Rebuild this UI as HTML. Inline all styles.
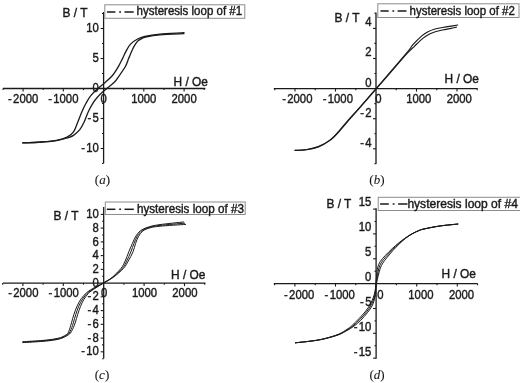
<!DOCTYPE html>
<html><head><meta charset="utf-8"><title>Hysteresis loops</title>
<style>
html,body{margin:0;padding:0;background:#fff;}
svg{display:block;}
svg text{font-family:"Liberation Sans",sans-serif;fill:#1a1a1a;stroke:#1a1a1a;stroke-width:0.4px;}
svg text.cap{font-family:"Liberation Serif",serif;stroke-width:0.1px;}
</style></head><body>
<svg width="520" height="383" viewBox="0 0 520 383">
<rect width="520" height="383" fill="#ffffff"/>
<line x1="3.0" y1="88.5" x2="205.4" y2="88.5" stroke="#1a1a1a" stroke-width="1.30"/>
<line x1="103.6" y1="12.0" x2="103.6" y2="163.3" stroke="#1a1a1a" stroke-width="1.30"/>
<line x1="23.1" y1="88.5" x2="23.1" y2="91.5" stroke="#1a1a1a" stroke-width="1.10"/>
<line x1="63.3" y1="88.5" x2="63.3" y2="91.5" stroke="#1a1a1a" stroke-width="1.10"/>
<line x1="143.8" y1="88.5" x2="143.8" y2="91.5" stroke="#1a1a1a" stroke-width="1.10"/>
<line x1="184.1" y1="88.5" x2="184.1" y2="91.5" stroke="#1a1a1a" stroke-width="1.10"/>
<line x1="3.0" y1="88.5" x2="3.0" y2="90.1" stroke="#1a1a1a" stroke-width="1.10"/>
<line x1="43.2" y1="88.5" x2="43.2" y2="90.1" stroke="#1a1a1a" stroke-width="1.10"/>
<line x1="83.5" y1="88.5" x2="83.5" y2="90.1" stroke="#1a1a1a" stroke-width="1.10"/>
<line x1="123.7" y1="88.5" x2="123.7" y2="90.1" stroke="#1a1a1a" stroke-width="1.10"/>
<line x1="164.0" y1="88.5" x2="164.0" y2="90.1" stroke="#1a1a1a" stroke-width="1.10"/>
<line x1="204.2" y1="88.5" x2="204.2" y2="90.1" stroke="#1a1a1a" stroke-width="1.10"/>
<text transform="translate(23.1,103.2) scale(0.950,1)" font-size="11.9" text-anchor="middle" >-<tspan dx="1.4">2000</tspan></text>
<text transform="translate(63.3,103.2) scale(0.950,1)" font-size="11.9" text-anchor="middle" >-<tspan dx="1.4">1000</tspan></text>
<text transform="translate(143.8,103.2) scale(0.950,1)" font-size="11.9" text-anchor="middle" >1000</text>
<text transform="translate(184.1,103.2) scale(0.950,1)" font-size="11.9" text-anchor="middle" >2000</text>
<text transform="translate(103.6,103.2) scale(0.950,1)" font-size="11.9" text-anchor="middle" >0</text>
<line x1="100.6" y1="28.5" x2="103.6" y2="28.5" stroke="#1a1a1a" stroke-width="1.10"/>
<text transform="translate(98.8,32.4) scale(0.950,1)" font-size="11.9" text-anchor="end" >10</text>
<line x1="100.6" y1="58.5" x2="103.6" y2="58.5" stroke="#1a1a1a" stroke-width="1.10"/>
<text transform="translate(98.8,62.4) scale(0.950,1)" font-size="11.9" text-anchor="end" >5</text>
<text transform="translate(98.8,92.4) scale(0.950,1)" font-size="11.9" text-anchor="end" >0</text>
<line x1="100.6" y1="118.5" x2="103.6" y2="118.5" stroke="#1a1a1a" stroke-width="1.10"/>
<text transform="translate(98.8,122.4) scale(0.950,1)" font-size="11.9" text-anchor="end" >-<tspan dx="1.4">5</tspan></text>
<line x1="100.6" y1="148.5" x2="103.6" y2="148.5" stroke="#1a1a1a" stroke-width="1.10"/>
<text transform="translate(98.8,152.4) scale(0.950,1)" font-size="11.9" text-anchor="end" >-<tspan dx="1.4">10</tspan></text>
<line x1="102.0" y1="13.5" x2="103.6" y2="13.5" stroke="#1a1a1a" stroke-width="1.10"/>
<line x1="102.0" y1="43.5" x2="103.6" y2="43.5" stroke="#1a1a1a" stroke-width="1.10"/>
<line x1="102.0" y1="73.5" x2="103.6" y2="73.5" stroke="#1a1a1a" stroke-width="1.10"/>
<line x1="102.0" y1="103.5" x2="103.6" y2="103.5" stroke="#1a1a1a" stroke-width="1.10"/>
<line x1="102.0" y1="133.5" x2="103.6" y2="133.5" stroke="#1a1a1a" stroke-width="1.10"/>
<line x1="102.0" y1="163.5" x2="103.6" y2="163.5" stroke="#1a1a1a" stroke-width="1.10"/>
<text x="62.5" y="16.8" font-size="11.9" text-anchor="start" >B / T</text>
<text x="173.6" y="86.2" font-size="11.9" text-anchor="start" >H / Oe</text>
<rect x="104.8" y="4.8" width="140.0" height="13.5" fill="#fff" stroke="#8c8c8c" stroke-width="1"/>
<line x1="106.9" y1="12.0" x2="115.4" y2="12.0" stroke="#1a1a1a" stroke-width="1.50"/>
<line x1="119.2" y1="12.0" x2="121.0" y2="12.0" stroke="#1a1a1a" stroke-width="1.50"/>
<line x1="124.5" y1="12.0" x2="133.7" y2="12.0" stroke="#1a1a1a" stroke-width="1.50"/>
<text x="136.6" y="15.4" font-size="11.9" text-anchor="start" textLength="105.5" lengthAdjust="spacingAndGlyphs">hysteresis loop of #1</text>
<g>
<path d="M22.7,142.8C25.9,142.7 36.1,142.4 41.7,142.0C47.3,141.6 52.3,141.1 56.5,140.3C60.7,139.5 64.3,138.5 67.1,137.1C69.9,135.7 71.7,134.3 73.5,131.8C75.3,129.3 76.3,125.7 77.7,122.3C79.1,118.9 80.5,114.9 81.9,111.7C83.3,108.5 84.5,105.9 86.0,103.3C87.5,100.7 88.7,98.3 90.6,95.9C92.5,93.5 95.0,91.0 97.2,89.0C99.4,87.0 101.1,86.0 103.6,83.8C106.1,81.6 109.5,78.9 112.0,76.0C114.5,73.1 116.8,69.2 118.5,66.3C120.2,63.4 121.2,61.2 122.5,58.6C123.8,56.0 124.9,53.3 126.2,50.9C127.5,48.5 128.7,46.0 130.5,44.1C132.3,42.2 134.8,40.6 137.2,39.3C139.6,38.0 141.1,37.3 144.9,36.4C148.7,35.5 153.5,34.7 160.0,34.1C166.5,33.5 180.0,32.9 184.0,32.6" fill="none" stroke="#1a1a1a" stroke-width="1.30" stroke-linejoin="round" stroke-linecap="round"/>
<path d="M22.7,142.8C25.9,142.7 36.1,142.4 41.7,142.0C47.3,141.6 52.3,141.3 56.5,140.6C60.7,139.9 64.3,138.9 67.1,138.0C69.9,137.1 71.4,136.8 73.5,135.4C75.6,134.0 78.0,131.9 79.8,129.7C81.5,127.5 82.6,125.3 84.0,122.3C85.4,119.3 86.8,114.9 88.3,111.7C89.8,108.5 91.3,105.7 92.8,103.3C94.3,100.9 95.8,99.0 97.4,97.2C99.0,95.4 100.6,93.8 102.3,92.3C104.0,90.8 105.3,89.8 107.4,88.0C109.5,86.2 112.7,84.0 114.8,81.8C116.9,79.6 118.0,77.6 119.8,75.0C121.6,72.4 124.0,69.0 125.5,66.3C127.0,63.6 127.5,61.2 128.6,58.6C129.7,56.0 130.8,53.1 131.8,50.9C132.8,48.6 133.7,46.8 134.8,45.1C135.9,43.4 137.2,41.7 138.4,40.6C139.6,39.5 140.8,38.9 142.0,38.3C143.2,37.7 142.5,37.6 145.5,37.0C148.5,36.4 153.6,35.4 160.0,34.8C166.4,34.2 180.0,33.8 184.0,33.6" fill="none" stroke="#1a1a1a" stroke-width="1.30" stroke-linejoin="round" stroke-linecap="round"/>
</g>
<text x="102.4" y="183.9" font-size="13" text-anchor="middle" class="cap">(<tspan font-style="italic">a</tspan>)</text>
<line x1="273.8" y1="88.6" x2="477.5" y2="88.6" stroke="#1a1a1a" stroke-width="1.30"/>
<line x1="376.0" y1="12.5" x2="376.0" y2="164.1" stroke="#1a1a1a" stroke-width="1.30"/>
<line x1="295.0" y1="88.6" x2="295.0" y2="91.6" stroke="#1a1a1a" stroke-width="1.10"/>
<line x1="335.5" y1="88.6" x2="335.5" y2="91.6" stroke="#1a1a1a" stroke-width="1.10"/>
<line x1="416.5" y1="88.6" x2="416.5" y2="91.6" stroke="#1a1a1a" stroke-width="1.10"/>
<line x1="457.0" y1="88.6" x2="457.0" y2="91.6" stroke="#1a1a1a" stroke-width="1.10"/>
<line x1="274.8" y1="88.6" x2="274.8" y2="90.2" stroke="#1a1a1a" stroke-width="1.10"/>
<line x1="315.2" y1="88.6" x2="315.2" y2="90.2" stroke="#1a1a1a" stroke-width="1.10"/>
<line x1="355.8" y1="88.6" x2="355.8" y2="90.2" stroke="#1a1a1a" stroke-width="1.10"/>
<line x1="396.2" y1="88.6" x2="396.2" y2="90.2" stroke="#1a1a1a" stroke-width="1.10"/>
<line x1="436.8" y1="88.6" x2="436.8" y2="90.2" stroke="#1a1a1a" stroke-width="1.10"/>
<line x1="477.2" y1="88.6" x2="477.2" y2="90.2" stroke="#1a1a1a" stroke-width="1.10"/>
<text transform="translate(297.3,103.4) scale(0.950,1)" font-size="11.9" text-anchor="middle" >-<tspan dx="1.4">2000</tspan></text>
<text transform="translate(337.8,103.4) scale(0.950,1)" font-size="11.9" text-anchor="middle" >-<tspan dx="1.4">1000</tspan></text>
<text transform="translate(418.8,103.4) scale(0.950,1)" font-size="11.9" text-anchor="middle" >1000</text>
<text transform="translate(459.3,103.4) scale(0.950,1)" font-size="11.9" text-anchor="middle" >2000</text>
<text transform="translate(378.3,103.4) scale(0.950,1)" font-size="11.9" text-anchor="middle" >0</text>
<line x1="373.0" y1="28.4" x2="376.0" y2="28.4" stroke="#1a1a1a" stroke-width="1.10"/>
<text transform="translate(371.6,26.3) scale(0.950,1)" font-size="11.9" text-anchor="end" >4</text>
<line x1="373.0" y1="58.5" x2="376.0" y2="58.5" stroke="#1a1a1a" stroke-width="1.10"/>
<text transform="translate(371.6,56.4) scale(0.950,1)" font-size="11.9" text-anchor="end" >2</text>
<text transform="translate(371.6,86.5) scale(0.950,1)" font-size="11.9" text-anchor="end" >0</text>
<line x1="373.0" y1="118.7" x2="376.0" y2="118.7" stroke="#1a1a1a" stroke-width="1.10"/>
<text transform="translate(371.6,116.6) scale(0.950,1)" font-size="11.9" text-anchor="end" >-<tspan dx="1.4">2</tspan></text>
<line x1="373.0" y1="148.8" x2="376.0" y2="148.8" stroke="#1a1a1a" stroke-width="1.10"/>
<text transform="translate(371.6,146.7) scale(0.950,1)" font-size="11.9" text-anchor="end" >-<tspan dx="1.4">4</tspan></text>
<line x1="374.4" y1="13.3" x2="376.0" y2="13.3" stroke="#1a1a1a" stroke-width="1.10"/>
<line x1="374.4" y1="43.4" x2="376.0" y2="43.4" stroke="#1a1a1a" stroke-width="1.10"/>
<line x1="374.4" y1="73.5" x2="376.0" y2="73.5" stroke="#1a1a1a" stroke-width="1.10"/>
<line x1="374.4" y1="103.6" x2="376.0" y2="103.6" stroke="#1a1a1a" stroke-width="1.10"/>
<line x1="374.4" y1="133.8" x2="376.0" y2="133.8" stroke="#1a1a1a" stroke-width="1.10"/>
<line x1="374.4" y1="163.8" x2="376.0" y2="163.8" stroke="#1a1a1a" stroke-width="1.10"/>
<text x="334.5" y="22.0" font-size="11.9" text-anchor="start" >B / T</text>
<text x="444.5" y="82.5" font-size="11.9" text-anchor="start" >H / Oe</text>
<rect x="377.8" y="3.8" width="141.2" height="13.7" fill="#fff" stroke="#8c8c8c" stroke-width="1"/>
<line x1="380.5" y1="11.0" x2="388.7" y2="11.0" stroke="#1a1a1a" stroke-width="1.50"/>
<line x1="392.4" y1="11.0" x2="394.2" y2="11.0" stroke="#1a1a1a" stroke-width="1.50"/>
<line x1="397.6" y1="11.0" x2="406.5" y2="11.0" stroke="#1a1a1a" stroke-width="1.50"/>
<text x="409.6" y="14.6" font-size="11.9" text-anchor="start" textLength="105.2" lengthAdjust="spacingAndGlyphs">hysteresis loop of #2</text>
<g>
<path d="M295.1,150.4C297.0,150.2 302.8,150.1 306.7,149.5C310.6,148.9 314.5,148.2 318.4,146.6C322.3,145.0 326.7,142.5 330.1,139.9C333.5,137.3 336.0,134.3 338.9,131.1C341.8,127.9 344.2,124.8 347.6,120.9C351.0,117.0 354.6,113.2 359.3,107.8C364.0,102.4 370.9,94.5 376.0,88.6C381.1,82.7 384.8,78.4 390.0,72.4C395.2,66.4 403.2,57.1 407.1,52.4C411.0,47.7 410.9,47.0 413.4,44.2C415.8,41.5 419.4,38.0 421.8,35.9C424.2,33.8 425.9,32.8 428.0,31.7C430.1,30.6 431.9,29.9 434.3,29.2C436.7,28.5 439.8,28.0 442.6,27.5C445.4,27.0 448.5,26.5 451.0,26.1C453.5,25.7 456.6,25.2 457.7,25.0" fill="none" stroke="#1a1a1a" stroke-width="1.15" stroke-linejoin="round" stroke-linecap="round"/>
<path d="M295.1,150.4C297.0,150.3 302.8,150.3 306.7,149.7C310.6,149.1 314.5,148.4 318.4,146.9C322.3,145.4 326.7,142.9 330.1,140.4C333.5,137.9 336.0,134.9 338.9,131.8C341.8,128.7 344.2,125.5 347.6,121.6C351.0,117.7 354.6,113.8 359.3,108.4C364.0,103.0 370.9,95.1 376.0,89.2C381.1,83.3 384.8,79.1 390.0,73.1C395.2,67.1 403.0,57.9 407.1,53.4C411.2,48.9 411.8,48.8 414.4,46.3C417.0,43.8 420.4,40.4 422.8,38.4C425.2,36.4 427.0,35.3 429.1,34.2C431.2,33.1 433.1,32.4 435.3,31.7C437.6,31.0 440.0,30.6 442.6,30.0C445.2,29.4 448.7,28.9 451.0,28.4C453.3,27.9 455.5,27.3 456.4,27.1" fill="none" stroke="#1a1a1a" stroke-width="1.15" stroke-linejoin="round" stroke-linecap="round"/>
</g>
<text x="376.9" y="184.3" font-size="13" text-anchor="middle" class="cap">(<tspan font-style="italic">b</tspan>)</text>
<line x1="3.0" y1="283.1" x2="205.4" y2="283.1" stroke="#1a1a1a" stroke-width="1.30"/>
<line x1="103.7" y1="207.0" x2="103.7" y2="358.6" stroke="#1a1a1a" stroke-width="1.30"/>
<line x1="22.9" y1="283.1" x2="22.9" y2="286.1" stroke="#1a1a1a" stroke-width="1.10"/>
<line x1="63.3" y1="283.1" x2="63.3" y2="286.1" stroke="#1a1a1a" stroke-width="1.10"/>
<line x1="144.1" y1="283.1" x2="144.1" y2="286.1" stroke="#1a1a1a" stroke-width="1.10"/>
<line x1="184.5" y1="283.1" x2="184.5" y2="286.1" stroke="#1a1a1a" stroke-width="1.10"/>
<line x1="2.7" y1="283.1" x2="2.7" y2="284.7" stroke="#1a1a1a" stroke-width="1.10"/>
<line x1="43.1" y1="283.1" x2="43.1" y2="284.7" stroke="#1a1a1a" stroke-width="1.10"/>
<line x1="83.5" y1="283.1" x2="83.5" y2="284.7" stroke="#1a1a1a" stroke-width="1.10"/>
<line x1="123.9" y1="283.1" x2="123.9" y2="284.7" stroke="#1a1a1a" stroke-width="1.10"/>
<line x1="164.3" y1="283.1" x2="164.3" y2="284.7" stroke="#1a1a1a" stroke-width="1.10"/>
<line x1="204.7" y1="283.1" x2="204.7" y2="284.7" stroke="#1a1a1a" stroke-width="1.10"/>
<text transform="translate(23.3,297.3) scale(0.950,1)" font-size="11.9" text-anchor="middle" >-<tspan dx="1.4">2000</tspan></text>
<text transform="translate(63.7,297.3) scale(0.950,1)" font-size="11.9" text-anchor="middle" >-<tspan dx="1.4">1000</tspan></text>
<text transform="translate(144.5,297.3) scale(0.950,1)" font-size="11.9" text-anchor="middle" >1000</text>
<text transform="translate(184.9,297.3) scale(0.950,1)" font-size="11.9" text-anchor="middle" >2000</text>
<text transform="translate(104.1,297.3) scale(0.950,1)" font-size="11.9" text-anchor="middle" >0</text>
<line x1="100.7" y1="214.4" x2="103.7" y2="214.4" stroke="#1a1a1a" stroke-width="1.10"/>
<text transform="translate(98.8,218.0) scale(0.950,1)" font-size="11.9" text-anchor="end" >10</text>
<line x1="100.7" y1="228.1" x2="103.7" y2="228.1" stroke="#1a1a1a" stroke-width="1.10"/>
<text transform="translate(98.8,231.7) scale(0.950,1)" font-size="11.9" text-anchor="end" >8</text>
<line x1="100.7" y1="241.9" x2="103.7" y2="241.9" stroke="#1a1a1a" stroke-width="1.10"/>
<text transform="translate(98.8,245.5) scale(0.950,1)" font-size="11.9" text-anchor="end" >6</text>
<line x1="100.7" y1="255.6" x2="103.7" y2="255.6" stroke="#1a1a1a" stroke-width="1.10"/>
<text transform="translate(98.8,259.2) scale(0.950,1)" font-size="11.9" text-anchor="end" >4</text>
<line x1="100.7" y1="269.4" x2="103.7" y2="269.4" stroke="#1a1a1a" stroke-width="1.10"/>
<text transform="translate(98.8,273.0) scale(0.950,1)" font-size="11.9" text-anchor="end" >2</text>
<text transform="translate(98.8,286.7) scale(0.950,1)" font-size="11.9" text-anchor="end" >0</text>
<line x1="100.7" y1="296.8" x2="103.7" y2="296.8" stroke="#1a1a1a" stroke-width="1.10"/>
<text transform="translate(98.8,300.4) scale(0.950,1)" font-size="11.9" text-anchor="end" >-<tspan dx="1.4">2</tspan></text>
<line x1="100.7" y1="310.6" x2="103.7" y2="310.6" stroke="#1a1a1a" stroke-width="1.10"/>
<text transform="translate(98.8,314.2) scale(0.950,1)" font-size="11.9" text-anchor="end" >-<tspan dx="1.4">4</tspan></text>
<line x1="100.7" y1="324.3" x2="103.7" y2="324.3" stroke="#1a1a1a" stroke-width="1.10"/>
<text transform="translate(98.8,327.9) scale(0.950,1)" font-size="11.9" text-anchor="end" >-<tspan dx="1.4">6</tspan></text>
<line x1="100.7" y1="338.1" x2="103.7" y2="338.1" stroke="#1a1a1a" stroke-width="1.10"/>
<text transform="translate(98.8,341.7) scale(0.950,1)" font-size="11.9" text-anchor="end" >-<tspan dx="1.4">8</tspan></text>
<line x1="100.7" y1="351.8" x2="103.7" y2="351.8" stroke="#1a1a1a" stroke-width="1.10"/>
<text transform="translate(98.8,355.4) scale(0.950,1)" font-size="11.9" text-anchor="end" >-<tspan dx="1.4">10</tspan></text>
<line x1="102.1" y1="221.3" x2="103.7" y2="221.3" stroke="#1a1a1a" stroke-width="1.10"/>
<line x1="102.1" y1="235.0" x2="103.7" y2="235.0" stroke="#1a1a1a" stroke-width="1.10"/>
<line x1="102.1" y1="248.8" x2="103.7" y2="248.8" stroke="#1a1a1a" stroke-width="1.10"/>
<line x1="102.1" y1="262.5" x2="103.7" y2="262.5" stroke="#1a1a1a" stroke-width="1.10"/>
<line x1="102.1" y1="276.2" x2="103.7" y2="276.2" stroke="#1a1a1a" stroke-width="1.10"/>
<line x1="102.1" y1="290.0" x2="103.7" y2="290.0" stroke="#1a1a1a" stroke-width="1.10"/>
<line x1="102.1" y1="303.7" x2="103.7" y2="303.7" stroke="#1a1a1a" stroke-width="1.10"/>
<line x1="102.1" y1="317.5" x2="103.7" y2="317.5" stroke="#1a1a1a" stroke-width="1.10"/>
<line x1="102.1" y1="331.2" x2="103.7" y2="331.2" stroke="#1a1a1a" stroke-width="1.10"/>
<line x1="102.1" y1="344.9" x2="103.7" y2="344.9" stroke="#1a1a1a" stroke-width="1.10"/>
<line x1="102.1" y1="358.7" x2="103.7" y2="358.7" stroke="#1a1a1a" stroke-width="1.10"/>
<text x="53.6" y="219.7" font-size="11.9" text-anchor="start" >B / T</text>
<text x="171.0" y="279.3" font-size="11.9" text-anchor="start" >H / Oe</text>
<rect x="105.3" y="202.0" width="139.9" height="12.5" fill="#fff" stroke="#8c8c8c" stroke-width="1"/>
<line x1="106.8" y1="209.3" x2="115.4" y2="209.3" stroke="#1a1a1a" stroke-width="1.50"/>
<line x1="119.2" y1="209.3" x2="121.0" y2="209.3" stroke="#1a1a1a" stroke-width="1.50"/>
<line x1="124.5" y1="209.3" x2="133.8" y2="209.3" stroke="#1a1a1a" stroke-width="1.50"/>
<text x="136.9" y="212.5" font-size="11.9" text-anchor="start" textLength="107.0" lengthAdjust="spacingAndGlyphs">hysteresis loop of #3</text>
<g>
<path d="M22.9,341.7C26.3,341.5 37.8,340.9 43.1,340.4C48.5,339.9 51.9,339.4 55.0,338.9C58.1,338.3 60.1,337.8 61.9,337.1C63.7,336.4 65.0,335.5 66.0,334.8C67.0,334.1 67.3,334.5 68.1,333.0C68.9,331.5 69.9,328.1 70.7,325.7C71.5,323.3 71.9,321.0 72.7,318.4C73.5,315.8 74.3,312.9 75.4,310.2C76.5,307.4 77.8,304.3 79.2,301.9C80.6,299.4 82.0,297.5 83.8,295.5C85.6,293.5 86.9,292.2 90.2,290.1C93.5,288.0 100.2,284.7 103.8,282.6C107.4,280.5 109.2,279.9 112.0,277.5C114.8,275.1 118.7,271.2 120.9,268.5C123.1,265.8 123.8,263.9 125.1,261.1C126.4,258.3 127.6,254.8 128.8,251.8C130.0,248.9 131.1,246.2 132.4,243.4C133.7,240.6 134.9,237.4 136.5,235.1C138.1,232.8 139.6,231.2 141.8,229.8C144.1,228.4 147.0,227.5 150.0,226.6C153.0,225.7 154.4,225.4 160.0,224.6C165.6,223.8 179.7,222.4 183.6,222.0" fill="none" stroke="#1a1a1a" stroke-width="1.00" stroke-linejoin="round" stroke-linecap="round"/>
<path d="M22.9,342.1C26.3,341.9 37.8,341.3 43.1,340.9C48.5,340.4 51.9,339.9 55.0,339.4C58.1,338.9 60.0,338.3 61.9,337.6C63.8,336.9 65.3,336.0 66.5,335.2C67.7,334.4 68.3,334.6 69.3,333.0C70.3,331.4 71.6,328.1 72.5,325.7C73.3,323.3 73.8,321.0 74.6,318.4C75.4,315.8 76.2,312.9 77.2,310.2C78.2,307.5 79.3,304.8 80.6,302.4C81.9,300.0 83.2,298.0 84.8,296.0C86.5,294.0 87.5,292.8 90.7,290.6C93.8,288.4 100.2,285.0 103.8,282.8C107.4,280.6 109.4,279.9 112.5,277.5C115.6,275.1 119.8,271.2 122.2,268.5C124.5,265.8 125.2,263.9 126.6,261.1C128.1,258.3 129.7,254.8 130.9,251.8C132.1,248.9 132.9,246.1 134.0,243.4C135.1,240.7 136.1,238.0 137.5,235.8C138.9,233.6 140.2,231.8 142.3,230.4C144.4,229.0 147.1,228.0 150.0,227.2C152.9,226.4 154.2,226.1 160.0,225.4C165.8,224.7 180.5,223.6 184.6,223.2" fill="none" stroke="#1a1a1a" stroke-width="1.00" stroke-linejoin="round" stroke-linecap="round"/>
<path d="M22.9,342.6C26.3,342.4 37.8,341.8 43.1,341.3C48.5,340.9 51.9,340.4 55.0,339.9C58.1,339.4 59.9,338.9 61.9,338.2C63.9,337.5 65.6,336.5 67.0,335.6C68.4,334.7 69.3,334.6 70.5,333.0C71.7,331.4 73.2,328.1 74.2,325.7C75.2,323.3 75.7,321.0 76.5,318.4C77.3,315.8 78.2,312.8 79.1,310.2C80.0,307.6 80.9,305.2 82.0,302.9C83.1,300.6 84.4,298.5 85.9,296.5C87.4,294.5 88.1,293.2 91.1,291.0C94.1,288.8 100.1,285.2 103.8,283.0C107.5,280.8 109.7,279.9 113.0,277.5C116.3,275.1 120.9,271.2 123.4,268.5C125.9,265.8 126.6,263.9 128.2,261.1C129.8,258.3 131.8,254.8 133.0,251.8C134.2,248.9 134.7,246.0 135.6,243.4C136.5,240.8 137.3,238.6 138.5,236.5C139.7,234.4 140.9,232.4 142.8,231.0C144.7,229.6 147.1,228.6 150.0,227.8C152.9,227.0 154.1,226.8 160.0,226.2C165.9,225.6 181.3,224.7 185.6,224.4" fill="none" stroke="#1a1a1a" stroke-width="1.00" stroke-linejoin="round" stroke-linecap="round"/>
</g>
<text x="102.0" y="378.6" font-size="13" text-anchor="middle" class="cap">(<tspan font-style="italic">c</tspan>)</text>
<line x1="273.8" y1="283.6" x2="477.5" y2="283.6" stroke="#1a1a1a" stroke-width="1.30"/>
<line x1="376.1" y1="208.3" x2="376.1" y2="358.7" stroke="#1a1a1a" stroke-width="1.30"/>
<line x1="294.9" y1="283.6" x2="294.9" y2="286.6" stroke="#1a1a1a" stroke-width="1.10"/>
<line x1="335.5" y1="283.6" x2="335.5" y2="286.6" stroke="#1a1a1a" stroke-width="1.10"/>
<line x1="416.7" y1="283.6" x2="416.7" y2="286.6" stroke="#1a1a1a" stroke-width="1.10"/>
<line x1="457.3" y1="283.6" x2="457.3" y2="286.6" stroke="#1a1a1a" stroke-width="1.10"/>
<line x1="274.6" y1="283.6" x2="274.6" y2="285.2" stroke="#1a1a1a" stroke-width="1.10"/>
<line x1="315.2" y1="283.6" x2="315.2" y2="285.2" stroke="#1a1a1a" stroke-width="1.10"/>
<line x1="355.8" y1="283.6" x2="355.8" y2="285.2" stroke="#1a1a1a" stroke-width="1.10"/>
<line x1="396.4" y1="283.6" x2="396.4" y2="285.2" stroke="#1a1a1a" stroke-width="1.10"/>
<line x1="437.0" y1="283.6" x2="437.0" y2="285.2" stroke="#1a1a1a" stroke-width="1.10"/>
<line x1="477.6" y1="283.6" x2="477.6" y2="285.2" stroke="#1a1a1a" stroke-width="1.10"/>
<text transform="translate(299.1,298.8) scale(0.950,1)" font-size="11.9" text-anchor="middle" >-<tspan dx="1.4">2000</tspan></text>
<text transform="translate(339.7,298.8) scale(0.950,1)" font-size="11.9" text-anchor="middle" >-<tspan dx="1.4">1000</tspan></text>
<text transform="translate(420.9,298.8) scale(0.950,1)" font-size="11.9" text-anchor="middle" >1000</text>
<text transform="translate(461.5,298.8) scale(0.950,1)" font-size="11.9" text-anchor="middle" >2000</text>
<text transform="translate(380.3,298.8) scale(0.950,1)" font-size="11.9" text-anchor="middle" >0</text>
<line x1="373.1" y1="209.1" x2="376.1" y2="209.1" stroke="#1a1a1a" stroke-width="1.10"/>
<text transform="translate(371.4,205.6) scale(0.950,1)" font-size="11.9" text-anchor="end" >15</text>
<line x1="373.1" y1="233.9" x2="376.1" y2="233.9" stroke="#1a1a1a" stroke-width="1.10"/>
<text transform="translate(371.4,230.6) scale(0.950,1)" font-size="11.9" text-anchor="end" >10</text>
<line x1="373.1" y1="258.8" x2="376.1" y2="258.8" stroke="#1a1a1a" stroke-width="1.10"/>
<text transform="translate(371.4,255.7) scale(0.950,1)" font-size="11.9" text-anchor="end" >5</text>
<text transform="translate(371.4,280.7) scale(0.950,1)" font-size="11.9" text-anchor="end" >0</text>
<line x1="373.1" y1="308.5" x2="376.1" y2="308.5" stroke="#1a1a1a" stroke-width="1.10"/>
<text transform="translate(371.4,305.7) scale(0.950,1)" font-size="11.9" text-anchor="end" >-<tspan dx="1.4">5</tspan></text>
<line x1="373.1" y1="333.3" x2="376.1" y2="333.3" stroke="#1a1a1a" stroke-width="1.10"/>
<text transform="translate(371.4,330.8) scale(0.950,1)" font-size="11.9" text-anchor="end" >-<tspan dx="1.4">10</tspan></text>
<line x1="373.1" y1="358.2" x2="376.1" y2="358.2" stroke="#1a1a1a" stroke-width="1.10"/>
<text transform="translate(371.4,355.8) scale(0.950,1)" font-size="11.9" text-anchor="end" >-<tspan dx="1.4">15</tspan></text>
<line x1="374.5" y1="221.5" x2="376.1" y2="221.5" stroke="#1a1a1a" stroke-width="1.10"/>
<line x1="374.5" y1="246.3" x2="376.1" y2="246.3" stroke="#1a1a1a" stroke-width="1.10"/>
<line x1="374.5" y1="271.2" x2="376.1" y2="271.2" stroke="#1a1a1a" stroke-width="1.10"/>
<line x1="374.5" y1="296.0" x2="376.1" y2="296.0" stroke="#1a1a1a" stroke-width="1.10"/>
<line x1="374.5" y1="320.9" x2="376.1" y2="320.9" stroke="#1a1a1a" stroke-width="1.10"/>
<line x1="374.5" y1="345.7" x2="376.1" y2="345.7" stroke="#1a1a1a" stroke-width="1.10"/>
<text x="326.4" y="207.6" font-size="11.9" text-anchor="start" >B / T</text>
<text x="441.5" y="278.0" font-size="11.9" text-anchor="start" >H / Oe</text>
<rect x="378.2" y="197.3" width="142.4" height="13.2" fill="#fff" stroke="#8c8c8c" stroke-width="1"/>
<line x1="380.1" y1="204.0" x2="388.8" y2="204.0" stroke="#1a1a1a" stroke-width="1.50"/>
<line x1="392.7" y1="204.0" x2="394.5" y2="204.0" stroke="#1a1a1a" stroke-width="1.50"/>
<line x1="398.1" y1="204.0" x2="407.5" y2="204.0" stroke="#1a1a1a" stroke-width="1.50"/>
<text x="407.4" y="207.9" font-size="11.9" text-anchor="start" textLength="110.5" lengthAdjust="spacingAndGlyphs">hysteresis loop of #4</text>
<g>
<path d="M295.4,342.8C298.3,342.5 308.2,341.5 313.1,340.8C318.0,340.1 320.8,339.7 325.0,338.7C329.2,337.7 334.9,336.2 338.6,334.8C342.3,333.4 344.5,331.9 347.0,330.5C349.5,329.1 351.5,328.0 353.8,326.3C356.1,324.6 358.3,322.7 360.6,320.4C362.9,318.1 365.4,315.2 367.4,312.7C369.4,310.1 371.2,307.8 372.5,305.1C373.8,302.4 374.4,299.4 375.0,296.6C375.6,293.8 375.7,290.4 375.9,288.2C376.1,286.0 376.0,284.4 376.2,283.4C376.4,282.4 376.6,283.3 376.9,282.0C377.2,280.7 377.6,278.1 378.2,275.8C378.8,273.5 379.5,270.3 380.3,268.2C381.1,266.1 381.7,264.9 382.8,263.1C383.9,261.3 385.3,259.6 387.0,257.5C388.7,255.4 391.0,252.6 393.0,250.4C395.0,248.2 396.8,246.3 398.9,244.3C401.0,242.3 403.4,240.0 405.7,238.2C408.0,236.4 410.2,235.0 412.5,233.7C414.8,232.4 417.1,231.3 419.2,230.5C421.3,229.7 421.5,229.6 425.0,228.8C428.5,228.1 434.7,226.8 440.2,226.0C445.7,225.2 454.9,224.4 457.8,224.1" fill="none" stroke="#1a1a1a" stroke-width="1.00" stroke-linejoin="round" stroke-linecap="round"/>
<path d="M295.4,342.8C298.3,342.5 308.2,341.5 313.1,340.8C318.0,340.1 320.8,339.7 325.0,338.6C329.2,337.6 334.9,335.9 338.6,334.5C342.3,333.1 344.6,331.3 347.0,329.9C349.4,328.5 350.8,327.6 353.0,325.9C355.1,324.2 357.5,321.9 359.8,319.5C362.0,317.2 364.6,314.4 366.5,311.9C368.5,309.3 370.3,306.9 371.6,304.2C373.0,301.6 373.9,298.4 374.6,295.8C375.3,293.1 375.4,290.3 375.7,288.2C375.9,286.1 376.0,284.6 376.1,283.4C376.2,282.2 376.3,282.3 376.5,281.0C376.8,279.7 377.0,278.0 377.4,275.8C377.8,273.6 378.3,270.1 379.0,267.8C379.7,265.5 380.4,264.1 381.6,262.2C382.7,260.4 384.3,258.6 386.1,256.5C388.0,254.4 390.4,251.7 392.6,249.6C394.7,247.4 396.7,245.5 398.9,243.6C401.1,241.6 403.4,239.6 405.7,237.9C408.0,236.3 410.2,234.8 412.5,233.6C414.8,232.3 417.1,231.3 419.2,230.4C421.3,229.6 421.5,229.5 425.0,228.8C428.5,228.0 434.7,226.7 440.2,225.9C445.7,225.2 454.9,224.4 457.8,224.1" fill="none" stroke="#1a1a1a" stroke-width="1.00" stroke-linejoin="round" stroke-linecap="round"/>
<path d="M295.4,342.8C298.3,342.5 308.2,341.5 313.1,340.8C318.0,340.1 320.8,339.6 325.0,338.5C329.2,337.4 334.9,335.7 338.6,334.2C342.3,332.7 344.8,330.8 347.0,329.3C349.2,327.9 350.1,327.3 352.1,325.5C354.1,323.7 356.6,321.1 358.9,318.7C361.2,316.3 363.7,313.7 365.7,311.1C367.7,308.6 369.4,306.1 370.8,303.4C372.2,300.7 373.4,297.4 374.2,294.9C375.0,292.4 375.2,290.1 375.5,288.2C375.8,286.3 375.9,284.8 376.0,283.4C376.1,282.0 376.1,281.3 376.2,280.0C376.3,278.7 376.4,277.9 376.6,275.8C376.9,273.7 377.1,269.8 377.7,267.4C378.3,265.0 379.0,263.4 380.3,261.4C381.6,259.4 383.3,257.6 385.3,255.5C387.3,253.4 389.8,250.8 392.1,248.7C394.4,246.6 396.6,244.6 398.9,242.8C401.2,241.0 403.4,239.2 405.7,237.7C408.0,236.1 410.2,234.7 412.5,233.5C414.8,232.3 417.1,231.2 419.2,230.4C421.3,229.6 421.5,229.4 425.0,228.7C428.5,227.9 434.7,226.7 440.2,225.9C445.7,225.1 454.9,224.3 457.8,224.0" fill="none" stroke="#1a1a1a" stroke-width="1.00" stroke-linejoin="round" stroke-linecap="round"/>
</g>
<text x="377.0" y="379.2" font-size="13" text-anchor="middle" class="cap">(<tspan font-style="italic">d</tspan>)</text>
</svg>
</body></html>
